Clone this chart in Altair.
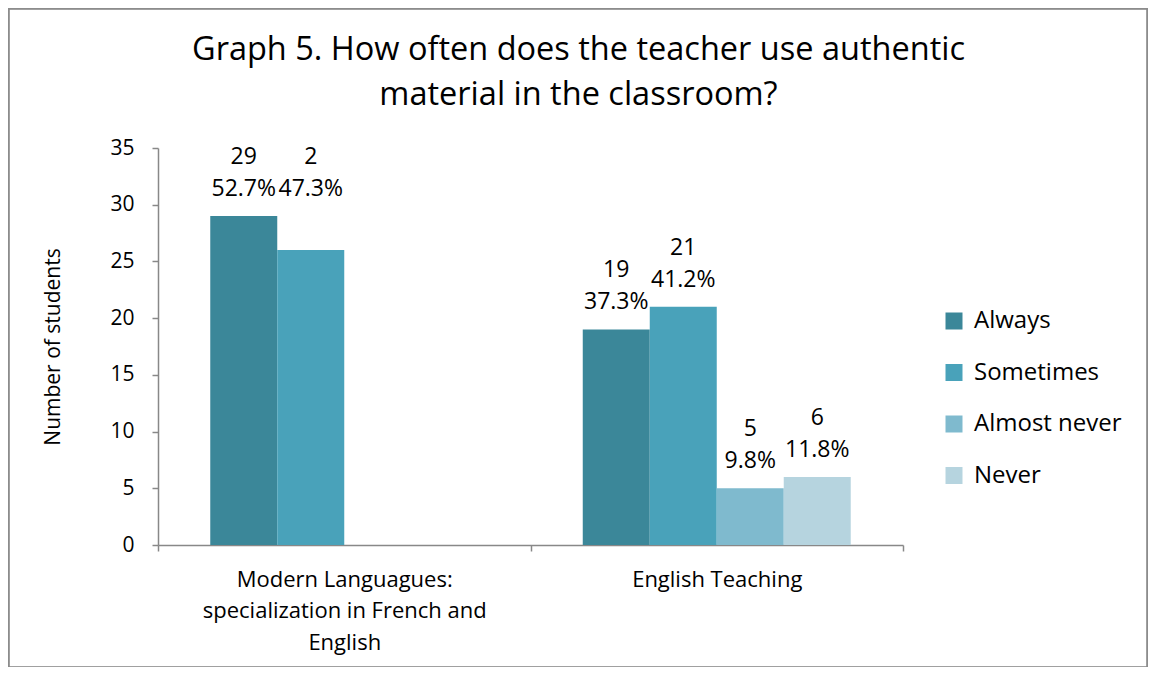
import altair as alt
import pandas as pd

title_lines = ["Graph 5. How often does the teacher use authentic", "material in the classroom?"]
groups = ["Modern Languagues:|specialization in French and|English", "English Teaching"]
series = ["Always", "Sometimes", "Almost never", "Never"]
colors = ["#3B8799", "#49A2BA", "#7FBACE", "#B6D4DF"]

ml_values = [29, 26]
ml_labels = ["29\n52.7%", "2\n47.3%"]
ml_label_at = [29, 29]

et_values = [19, 21, 5, 6]
et_labels = ["19\n37.3%", "21\n41.2%", "5\n9.8%", "6\n11.8%"]
et_label_at = [19, 21, 5, 6]

rows = []
for g, vals, labs, ats in [(groups[0], ml_values, ml_labels, ml_label_at),
                           (groups[1], et_values, et_labels, et_label_at)]:
    for s, v, l, a in zip(series, vals, labs, ats):
        rows.append({"group": g, "series": s, "value": v, "label": l, "label_at": a})
df = pd.DataFrame(rows)

FONT = "Open Sans"
AX = "#888888"

x_enc = alt.X("group:N", sort=groups, title=None,
              scale=alt.Scale(paddingInner=0, paddingOuter=0),
              axis=alt.Axis(labelExpr="split(datum.label, '|')", labelAngle=0,
                            tickBand="extent", labelFontSize=22, labelLineHeight=31.5,
                            labelPadding=18, tickSize=6, domainColor=AX, tickColor=AX,
                            labelColor="#000000", labelFont=FONT, domainWidth=1.5,
                            tickWidth=1.5, labelBaseline="top", labelLimit=0))
xo_scale = alt.Scale(domain=series, paddingOuter=0.78, paddingInner=0)

bars = alt.Chart(df).mark_bar(strokeWidth=0).encode(
    x=x_enc,
    xOffset=alt.XOffset("series:N", sort=series, scale=xo_scale),
    y=alt.Y("value:Q", scale=alt.Scale(domain=[0, 35]),
            axis=alt.Axis(values=list(range(0, 36, 5)), title="Number of students",
                          titleFontSize=21, titleFontWeight="normal", titleFont=FONT,
                          titleColor="#000000", titlePadding=46, grid=False, tickSize=6,
                          labelPadding=18, labelFontSize=21, labelFont=FONT,
                          labelColor="#000000", domainColor=AX, tickColor=AX,
                          domainWidth=1.5, tickWidth=1.5)),
    color=alt.Color("series:N", sort=series,
                    scale=alt.Scale(domain=series, range=colors),
                    legend=alt.Legend(title=None, orient="none", legendX=784, legendY=161,
                                      symbolType="square", symbolSize=289,
                                      symbolStrokeWidth=0, labelFontSize=24,
                                      labelFont=FONT, labelColor="#000000",
                                      labelOffset=8, rowPadding=27.5)),
)

texts = alt.Chart(df).mark_text(baseline="alphabetic", lineBreak="\n", lineHeight=32,
                                fontSize=23, font=FONT, color="#000000", dy=-52).encode(
    x=alt.X("group:N", sort=groups),
    xOffset=alt.XOffset("series:N", sort=series, scale=xo_scale),
    y=alt.Y("label_at:Q"),
    text="label:N",
)

frame = alt.Chart(df).mark_rect(fill="transparent", stroke="#8C8C8C", strokeWidth=1.5).encode(
    x=alt.value(-149.5), x2=alt.value(989.5), y=alt.value(-139.5), y2=alt.value(519.5))

chart = alt.layer(frame, bars, texts).properties(
    width=745, height=397,
    autosize=alt.AutoSizeParams(type="none"),
    padding={"left": 150, "top": 140, "right": 245, "bottom": 122},
    title=alt.Title(title_lines, fontSize=32.5, fontWeight="normal", font=FONT,
                    color="#000000", anchor="middle", dx=48, lineHeight=45,
                    baseline="top", offset=-104),
).configure_view(stroke=None)

chart.save("out.html", embed_options={"renderer": "svg", "actions": False})
